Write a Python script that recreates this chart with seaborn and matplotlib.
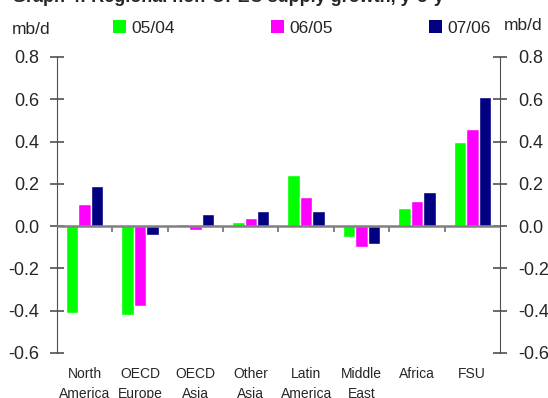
import matplotlib
matplotlib.use("Agg")
import matplotlib.pyplot as plt
import seaborn as sns
import pandas as pd
from matplotlib.patches import Patch

regions = ["North\nAmerica", "OECD\nEurope", "OECD\nAsia", "Other\nAsia",
           "Latin\nAmerica", "Middle\nEast", "Africa", "FSU"]
periods = ["05/04", "06/05", "07/06"]
growth_0504 = [-0.41, -0.42, 0.01, 0.02, 0.24, -0.05, 0.085, 0.40]
growth_0605 = [0.105, -0.38, -0.02, 0.04, 0.14, -0.10, 0.12, 0.46]
growth_0706 = [0.19, -0.04, 0.057, 0.07, 0.07, -0.085, 0.16, 0.61]
colors = ["#00ff00", "#ff00ff", "#000080"]
yticks = [-0.6, -0.4, -0.2, 0.0, 0.2, 0.4, 0.6, 0.8]

df = pd.DataFrame({
    "region": regions * 3,
    "period": [p for p in periods for _ in regions],
    "value": growth_0504 + growth_0605 + growth_0706,
})

sns.set_style("white")
plt.rcParams["font.family"] = ["Liberation Sans", "DejaVu Sans"]
plt.rcParams["axes.unicode_minus"] = False

rect = [0.104, 0.1131, 0.8084, 0.7437]
fig = plt.figure(figsize=(5.48, 3.98), dpi=100)
ax = fig.add_axes(rect)

sns.barplot(data=df, x="region", y="value", hue="period", order=regions,
            hue_order=periods, palette=colors, width=0.675, gap=0,
            saturation=1, legend=False, ax=ax)

ax.set_xlim(-0.5, len(regions) - 0.5)
ax.set_ylim(-0.6, 0.8)
ax.set_xlabel("")
ax.set_ylabel("")
ax.set_yticks(yticks)
ax.set_yticklabels([f"{t:.1f}" for t in yticks], fontsize=13)
ax.tick_params(axis="y", left=True, direction="inout", length=10, width=1.2,
               color="#505050", pad=8)
ax.tick_params(axis="x", bottom=True, length=0, pad=10)
ax.set_xticks(range(len(regions)))
ax.set_xticklabels(regions, fontsize=10, linespacing=1.6)
for s in ["top", "bottom", "right"]:
    ax.spines[s].set_visible(False)
ax.spines["left"].set_color("#505050")

# overlay axes: right hand scale and the zero line with category dividers
axr = fig.add_axes(rect)
axr.patch.set_visible(False)
axr.set_xlim(ax.get_xlim())
axr.set_ylim(-0.6, 0.8)
axr.yaxis.tick_right()
axr.set_yticks(yticks)
axr.set_yticklabels([f"{t:.1f}" for t in yticks], fontsize=13)
axr.tick_params(axis="y", right=True, direction="inout", length=10, width=1.2,
                color="#505050", pad=8)
axr.spines["bottom"].set_position(("data", 0))
axr.set_xticks([i + 0.5 for i in range(len(regions) - 1)])
axr.set_xticklabels([])
axr.tick_params(axis="x", bottom=True, direction="out", length=4, width=1.2,
                color="#707070")
for s in ["top", "left", "bottom"]:
    axr.spines[s].set_visible(False)
axr.spines["right"].set_color("#505050")
axr.axhline(0, color="#808080", linewidth=1.8, zorder=5)

handles = [Patch(facecolor=c, edgecolor="none") for c in colors]
fig.legend(handles, periods, loc="center left", bbox_to_anchor=(113 / 548, 1 - 28 / 398),
           ncol=3, frameon=False, fontsize=12.5, handlelength=0.75, handleheight=0.8,
           handletextpad=0.3, columnspacing=5.55, borderpad=0, borderaxespad=0)

fig.text(12 / 548, 1 - 30 / 398, "mb/d", fontsize=12.5, va="center", ha="left")
fig.text(542 / 548, 1 - 25 / 398, "mb/d", fontsize=12.5, va="center", ha="right")
fig.text(12 / 548, 1 - 1.5 / 398, "Graph 4: Regional non-OPEC supply growth, y-o-y",
         fontsize=13, fontweight="bold", va="baseline", ha="left")

fig.savefig("out.png", dpi=100)
